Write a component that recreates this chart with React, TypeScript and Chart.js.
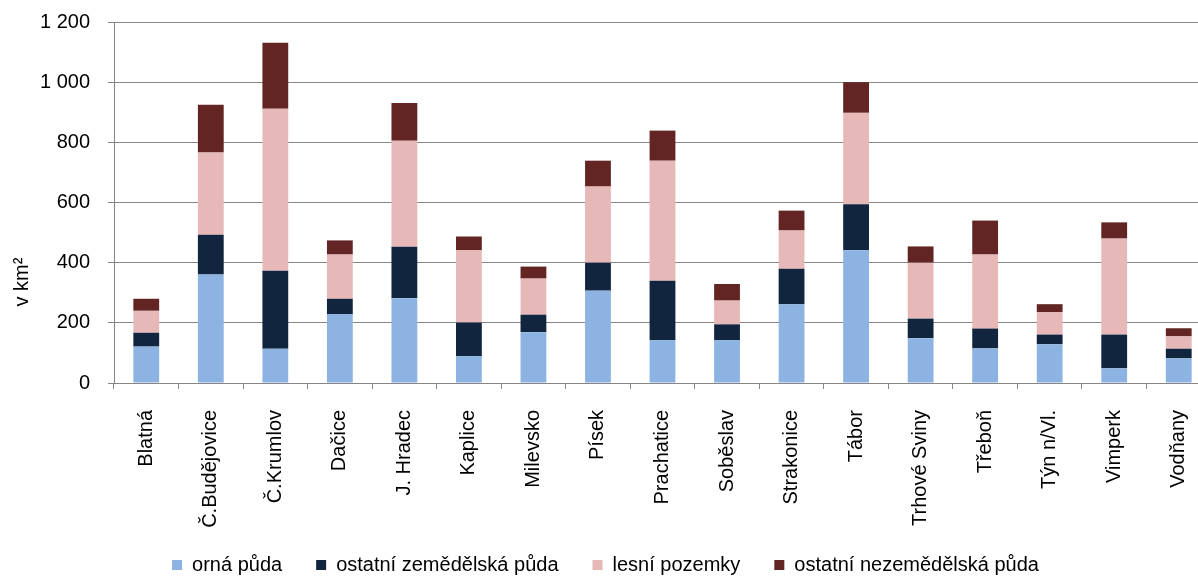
import React, { useEffect, useRef } from "react";
import { Chart, registerables } from "chart.js";

Chart.register(...registerables);

const categories = [
  "Blatná",
  "Č.Budějovice",
  "Č.Krumlov",
  "Dačice",
  "J. Hradec",
  "Kaplice",
  "Milevsko",
  "Písek",
  "Prachatice",
  "Soběslav",
  "Strakonice",
  "Tábor",
  "Trhové Sviny",
  "Třeboň",
  "Týn n/Vl.",
  "Vimperk",
  "Vodňany",
];

const ornaPuda = [121, 361, 114, 229, 282, 89, 169, 307, 142, 142, 262, 441, 149, 115, 129, 49, 82];
const ostatniZemedelska = [46, 132, 259, 51, 171, 112, 58, 93, 198, 53, 118, 153, 65, 66, 32, 112, 32];
const lesniPozemky = [73, 273, 539, 147, 352, 240, 120, 253, 399, 79, 127, 304, 186, 246, 74, 319, 41];
const ostatniNezemedelska = [40, 159, 219, 47, 126, 46, 40, 86, 100, 55, 66, 102, 54, 113, 27, 54, 27];

const seriesNames = ["orná půda", "ostatní zemědělská půda", "lesní pozemky", "ostatní nezemědělská půda"];
const seriesColors = ["#8db3e2", "#11253f", "#e6b9b8", "#632523"];

const yTicks = [0, 200, 400, 600, 800, 1000, 1200];
const yTitle = "v km²";

const FONT = "'Liberation Sans', Arial, sans-serif";
const GRID = "#868686";

function fmt(v: number): string {
  if (v >= 1000) {
    return Math.floor(v / 1000) + " " + String(v % 1000).padStart(3, "0");
  }
  return String(v);
}

const yTitlePlugin = {
  id: "yTitlePlugin",
  afterLayout(chart: any) {
    const xs = chart.scales.x;
    if (xs) xs._computeLabelArea = () => undefined;
  },
  afterDraw(chart: any) {
    const ctx = chart.ctx;
    ctx.save();
    ctx.translate(22, 282);
    ctx.rotate(-Math.PI / 2);
    ctx.font = "20px " + FONT;
    ctx.fillStyle = "#000";
    ctx.textAlign = "center";
    ctx.textBaseline = "middle";
    ctx.fillText(yTitle, 0, 0);
    ctx.restore();
  },
};

export default function App() {
  const ref = useRef<HTMLCanvasElement | null>(null);

  useEffect(() => {
    if (!ref.current) return;
    Chart.defaults.font.family = FONT;
    const data = [ornaPuda, ostatniZemedelska, lesniPozemky, ostatniNezemedelska];
    const chart = new Chart(ref.current, {
      type: "bar",
      data: {
        labels: categories,
        datasets: data.map((d, i) => ({
          label: seriesNames[i],
          data: d,
          backgroundColor: seriesColors[i],
          borderWidth: 0,
          barPercentage: 0.4,
          categoryPercentage: 1,
        })),
      },
      options: {
        responsive: false,
        animation: false,
        devicePixelRatio: 1,
        layout: { padding: { top: 22, right: 1, left: 0, bottom: 0 } },
        plugins: {
          tooltip: { enabled: false },
          legend: {
            position: "bottom",
            labels: {
              boxWidth: 10,
              boxHeight: 10,
              padding: 34,
              color: "#000",
              font: { size: 20, family: FONT },
            },
          },
        },
        scales: {
          x: {
            stacked: true,
            afterFit: (s: any) => {
              s.height = 138;
              s.paddingLeft = 0;
              s.paddingRight = 0;
              s.paddingTop = 0;
              s.paddingBottom = 0;
            },
            grid: {
              offset: true,
              drawOnChartArea: false,
              drawTicks: true,
              tickLength: 6,
              color: GRID,
            },
            border: { display: true, color: GRID, width: 1 },
            ticks: {
              autoSkip: false,
              maxRotation: 90,
              minRotation: 90,
              padding: 21,
              color: "#000",
              font: { size: 20, family: FONT },
            },
          },
          y: {
            stacked: true,
            min: 0,
            max: 1200,
            afterFit: (s: any) => {
              s.width = 114;
              s.paddingTop = 0;
              s.paddingBottom = 0;
              s.paddingLeft = 0;
              s.paddingRight = 0;
            },
            afterBuildTicks: (s: any) => {
              s.ticks = yTicks.map((v) => ({ value: v }));
            },
            grid: {
              color: GRID,
              lineWidth: 1,
              drawTicks: true,
              tickLength: 6,
            },
            border: { display: true, color: GRID, width: 1 },
            ticks: {
              padding: 18,
              color: "#000",
              font: { size: 20, family: FONT },
              callback: (v: any) => fmt(Number(v)),
            },
          },
        },
      },
      plugins: [yTitlePlugin],
    });
    return () => chart.destroy();
  }, []);

  return (
    <div
      style={{
        position: "fixed",
        left: 0,
        top: 0,
        width: 1198,
        height: 576,
        overflow: "hidden",
        background: "#fff",
      }}
    >
      <canvas ref={ref} width={1212} height={585} style={{ display: "block", width: 1212, height: 585 }} />
    </div>
  );
}
